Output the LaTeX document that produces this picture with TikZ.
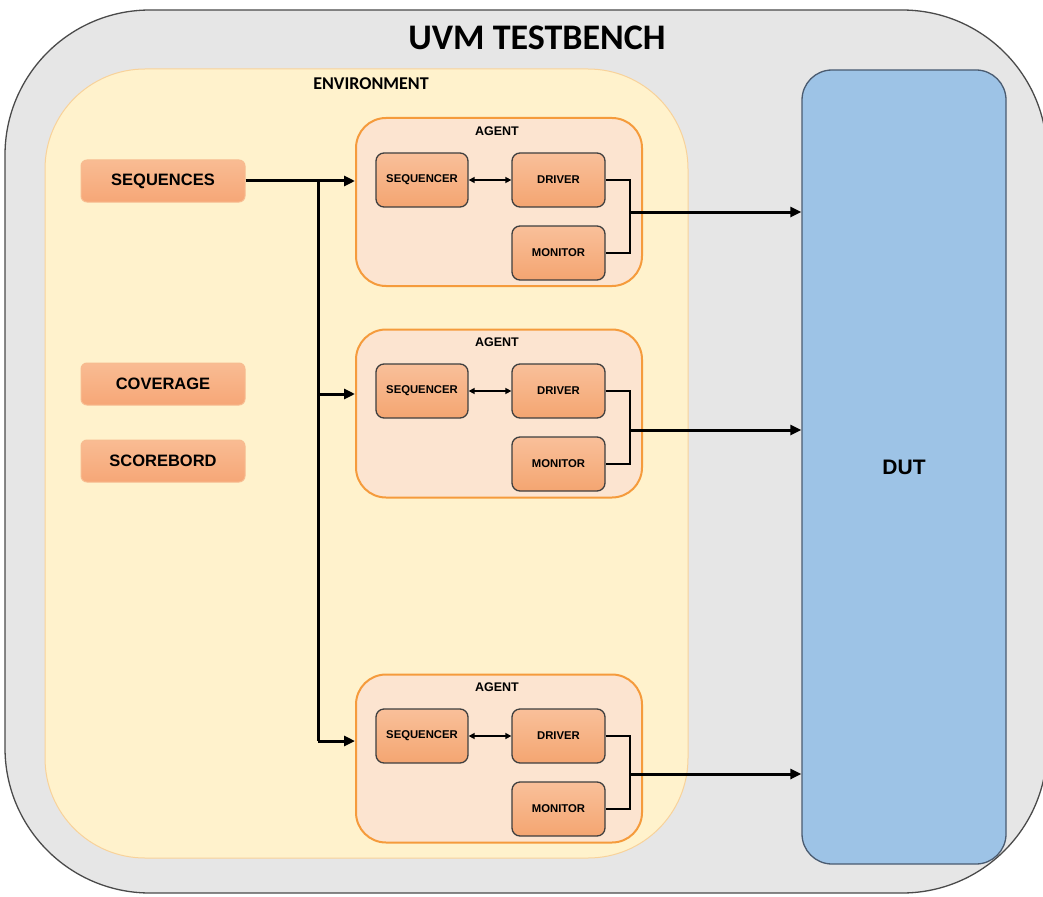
\documentclass[tikz,border=0pt]{standalone}
\usepackage{fontspec}
\setmainfont{Liberation Sans}
\newfontfamily\calib{Carlito}
\usetikzlibrary{arrows.meta}
\definecolor{benchfill}{HTML}{E6E6E6}
\definecolor{benchline}{HTML}{4A4A4A}
\definecolor{envfill}{HTML}{FFF2CC}
\definecolor{envline}{HTML}{F8D29A}
\definecolor{agfill}{HTML}{FCE4D0}
\definecolor{agline}{HTML}{F59B3C}
\definecolor{blktop}{HTML}{F9C09A}
\definecolor{blkbot}{HTML}{F4A571}
\definecolor{blkline}{HTML}{3F3F3F}
\definecolor{comptop}{HTML}{F9BC93}
\definecolor{compbot}{HTML}{F6A777}
\definecolor{compline}{HTML}{F7BC90}
\definecolor{dutfill}{HTML}{9DC3E6}
\definecolor{dutline}{HTML}{4A5B70}
\tikzset{
  agentbox/.style={draw=agline, line width=2pt, fill=agfill, rounded corners=30pt,
    minimum width=286pt, minimum height=168pt, inner sep=0pt},
  blk/.style={draw=blkline, line width=1.3pt, top color=blktop, bottom color=blkbot,
    rounded corners=8pt, minimum width=92pt, minimum height=54pt, inner sep=0pt,
    font=\fontsize{11.3}{12}\selectfont\bfseries},
  comp/.style={draw=compline, line width=1pt, top color=comptop, bottom color=compbot,
    rounded corners=6pt, minimum width=164pt, minimum height=42pt, inner sep=0pt,
    font=\fontsize{16.5}{18}\selectfont\bfseries},
  agtitle/.style={font=\fontsize{12.5}{14}\selectfont\bfseries, inner sep=0pt},
  arr/.style={line width=3pt, -{Triangle[length=11pt,width=10pt]}},
  bus/.style={line width=3pt},
  link/.style={line width=2.5pt},
  dbl/.style={line width=2pt, {Triangle[length=6pt,width=6pt]}-{Triangle[length=6pt,width=6pt]}}
}
\begin{document}
\begin{tikzpicture}[x=1pt,y=-1pt]
\useasboundingbox (0,0) rectangle (1043,896);
% testbench frame
\node[draw=benchline, line width=1.3pt, fill=benchfill, rounded corners=145pt,
  minimum width=1042pt, minimum height=883pt, inner sep=0pt] (bench) at (526,451.5) {};
\node[font=\calib\fontsize{36}{38}\selectfont\bfseries] (title) at (537,38) {UVM TESTBENCH};
% environment
\node[draw=envline, line width=1pt, fill=envfill, rounded corners=100pt,
  minimum width=643pt, minimum height=789pt, inner sep=0pt] (env) at (366.5,463.5) {};
\node[font=\calib\fontsize{18}{20}\selectfont\bfseries] (envt) at (371,84) {ENVIRONMENT};
% DUT
\node[draw=dutline, line width=1.3pt, fill=dutfill, rounded corners=30pt,
  minimum width=204pt, minimum height=794pt, inner sep=0pt,
  font=\fontsize{21}{23}\selectfont\bfseries] (dut) at (904,467) {DUT};
% environment components
\node[comp] (seqs) at (163,181) {SEQUENCES};
\node[comp] (cov) at (163,384) {COVERAGE};
\node[comp] (sb) at (163,461) {SCOREBORD};
% agents: index / box centre / block row / output line
\foreach \i/\ay/\ty/\oy in {1/202/180/212, 2/413.5/391/430, 3/758.5/736/774} {
  \node[agentbox] (ag\i) at (499,\ay) {};
  \node[agtitle] (agt\i) at (497,\ay-71) {AGENT};
  \node[blk] (sqr\i) at (422,\ty) {SEQUENCER};
  \node[blk, minimum width=93pt] (drv\i) at (558.5,\ty) {DRIVER};
  \node[blk, minimum width=93pt] (mon\i) at (558.5,\ty+73) {MONITOR};
  \draw[dbl] (sqr\i.east) -- (drv\i.east -| drv\i.west);
  \coordinate (j\i) at (630,\oy);
  \draw[link] (drv\i.east) -- (drv\i.east -| j\i) -- (mon\i.east -| j\i) -- (mon\i.east);
  \draw[arr] (j\i) -- (dut.west |- j\i);
}
% sequence distribution
\coordinate (t1) at (318,181);
\coordinate (t2) at (318,394);
\coordinate (t3) at (318,741);
\draw[arr] (seqs.east) -- (ag1.west |- seqs.east);
\draw[bus] (t1) -- (t3);
\draw[arr] (t2) -- (ag2.west |- t2);
\draw[arr] (t3) -- (ag3.west |- t3);
\end{tikzpicture}
\end{document}
